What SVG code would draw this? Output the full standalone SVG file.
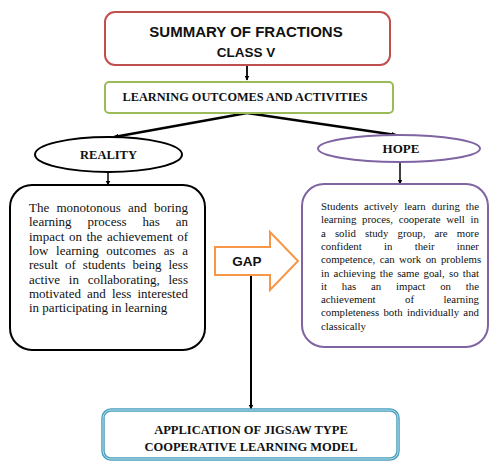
<svg xmlns="http://www.w3.org/2000/svg" width="491" height="462" viewBox="0 0 491 462">
  <style>
    .sans { font-family: "Liberation Sans", Arial, sans-serif; font-weight: bold; fill: #111; }
    .serifb { font-family: "Liberation Serif", "Times New Roman", serif; font-weight: bold; fill: #111; }
    .body { font-family: "Liberation Serif", "Times New Roman", serif; fill: #111; }
    .left { font-size: 13px; }
    .right { font-size: 10.8px; }
    .conn { stroke: #000; fill: none; }
  </style>
  <defs>
    <marker id="head" viewBox="0 0 10 10" refX="9" refY="5" markerWidth="5" markerHeight="5" orient="auto" markerUnits="userSpaceOnUse">
      <path d="M0,0 L10,5 L0,10 z" fill="#000"/>
    </marker>
  </defs>

  <rect width="491" height="462" fill="#fff"/>

  <g id="connectors">
    <line class="conn" x1="247" y1="65" x2="247" y2="80" stroke-width="1.8" marker-end="url(#head)"/>
    <line class="conn" x1="247" y1="113" x2="114" y2="137" stroke-width="2.4" marker-end="url(#head)"/>
    <line class="conn" x1="247" y1="113" x2="396" y2="135" stroke-width="2.4" marker-end="url(#head)"/>
    <line class="conn" x1="108" y1="172" x2="108" y2="185" stroke-width="1.5" marker-end="url(#head)"/>
    <line class="conn" x1="400" y1="162" x2="400" y2="184" stroke-width="1.5" marker-end="url(#head)"/>
    <line class="conn" x1="251" y1="275" x2="251" y2="409" stroke-width="2" marker-end="url(#head)"/>
  </g>

  <g id="summary">
    <rect x="105" y="12" width="285" height="53" rx="10" fill="#fff" stroke="#c0504d" stroke-width="2"/>
    <text class="sans" x="246" y="37" font-size="15" text-anchor="middle">SUMMARY OF FRACTIONS</text>
    <text class="sans" x="246" y="57" font-size="13.5" text-anchor="middle">CLASS V</text>
  </g>

  <g id="outcomes">
    <rect x="105" y="82" width="288" height="31" rx="4" fill="#fff" stroke="#9bbb59" stroke-width="2"/>
    <text class="serifb" x="245" y="101" font-size="12.3" text-anchor="middle">LEARNING OUTCOMES AND ACTIVITIES</text>
  </g>

  <g id="reality">
    <ellipse cx="108.5" cy="154.5" rx="73.5" ry="17.5" fill="#fff" stroke="#000" stroke-width="2"/>
    <text class="serifb" x="108.5" y="159" font-size="12.5" text-anchor="middle">REALITY</text>
  </g>

  <g id="hope">
    <ellipse cx="399" cy="148.5" rx="81" ry="13.5" fill="#fff" stroke="#8064a2" stroke-width="2"/>
    <text class="serifb" x="401" y="153" font-size="13" text-anchor="middle">HOPE</text>
  </g>

  <g id="reality-detail">
    <rect x="10" y="185" width="195" height="165" rx="22" fill="#fff" stroke="#000" stroke-width="2"/>
    <text class="body left" x="29" y="212" style="word-spacing:4.01px">The monotonous and boring</text>
    <text class="body left" x="29" y="226.3" style="word-spacing:12.69px">learning process has an</text>
    <text class="body left" x="29" y="240.6" style="word-spacing:1.3px">impact on the achievement of</text>
    <text class="body left" x="29" y="254.9" style="word-spacing:4.37px">low learning outcomes as a</text>
    <text class="body left" x="29" y="269.2" style="word-spacing:3.82px">result of students being less</text>
    <text class="body left" x="29" y="283.5" style="word-spacing:5.58px">active in collaborating, less</text>
    <text class="body left" x="29" y="297.8" style="word-spacing:2.81px">motivated and less interested</text>
    <text class="body left" x="29" y="312.1">in participating in learning</text>
  </g>

  <g id="hope-detail">
    <rect x="302" y="184" width="186" height="163" rx="22" fill="#fff" stroke="#8064a2" stroke-width="2"/>
    <text class="body right" x="321" y="210" style="word-spacing:3.2px">Students actively learn during the</text>
    <text class="body right" x="321" y="223.3" style="word-spacing:2.99px">learning proces, cooperate well in</text>
    <text class="body right" x="321" y="236.6" style="word-spacing:6.4px">a solid study group, are more</text>
    <text class="body right" x="321" y="249.9" style="word-spacing:19.57px">confident in their inner</text>
    <text class="body right" x="321" y="263.2" style="word-spacing:1.72px">competence, can work on problems</text>
    <text class="body right" x="321" y="276.5" style="word-spacing:1.49px">in achieving the same goal, so that</text>
    <text class="body right" x="321" y="289.8" style="word-spacing:12.1px">it has an impact on the</text>
    <text class="body right" x="321" y="303.1" style="word-spacing:26.81px">achievement of learning</text>
    <text class="body right" x="321" y="316.4" style="word-spacing:1.57px">completeness both individually and</text>
    <text class="body right" x="321" y="329.7">classically</text>
  </g>

  <g id="gap">
    <polygon points="215,247 270,247 270,232 298,261 270,290 270,275 215,275" fill="#fff" stroke="#f79646" stroke-width="2" stroke-linejoin="miter"/>
    <text class="sans" x="247" y="266" font-size="13.5" text-anchor="middle">GAP</text>
  </g>

  <g id="jigsaw">
    <rect x="103" y="410" width="295" height="49" rx="8" fill="#fff" stroke="#4a9fbd" stroke-width="3.5"/>
    <rect x="103" y="410" width="295" height="49" rx="8" fill="none" stroke="#b7dfeb" stroke-width="1"/>
    <text class="serifb" x="251" y="434" font-size="12.5" text-anchor="middle">APPLICATION OF JIGSAW TYPE</text>
    <text class="serifb" x="251" y="451" font-size="12.5" text-anchor="middle">COOPERATIVE LEARNING MODEL</text>
  </g>
</svg>
